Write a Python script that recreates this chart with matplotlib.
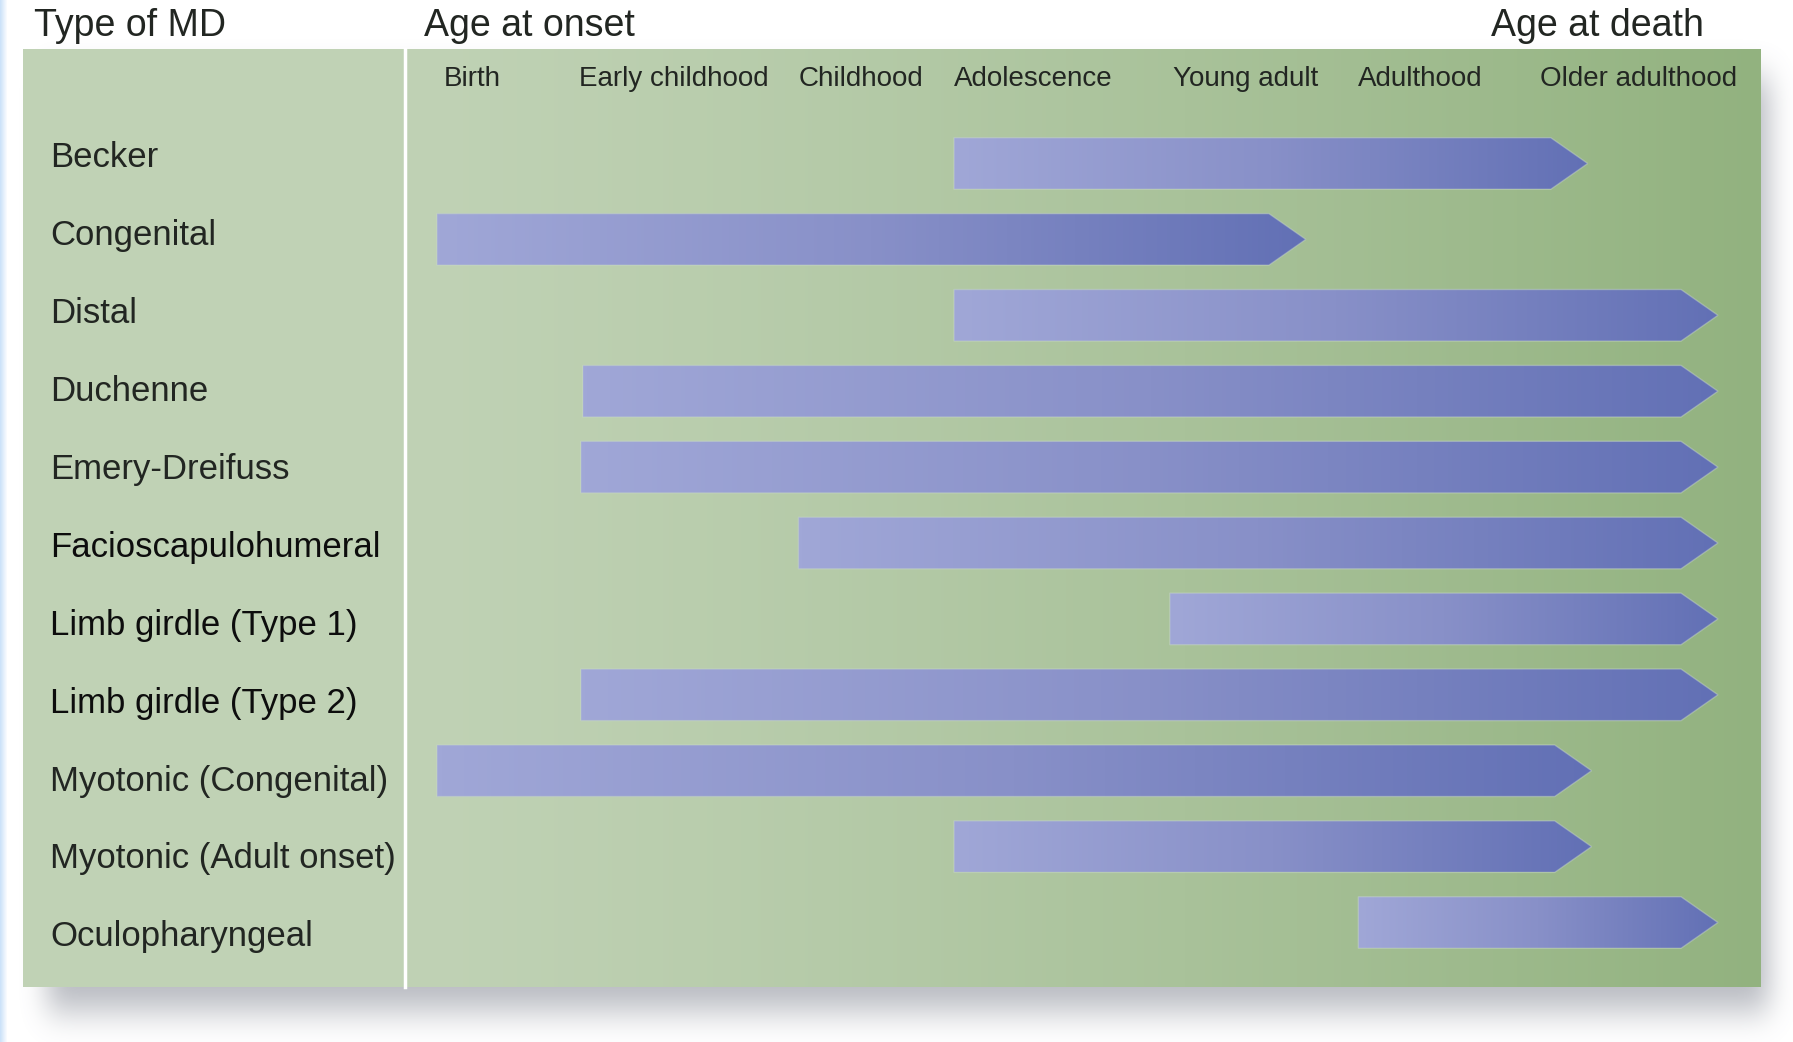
import numpy as np
import matplotlib.pyplot as plt
from matplotlib.patches import Polygon
from matplotlib.colors import LinearSegmentedColormap

plt.rcParams['font.family'] = ['Liberation Sans', 'DejaVu Sans']

# data: life stages along x (stage units, birth = 0)
stages = ['Birth', 'Early childhood', 'Childhood', 'Adolescence',
          'Young adult', 'Adulthood', 'Older adulthood']
stage_pos = [0.18, 1.22, 2.18, 3.07, 4.16, 5.06, 6.18]

md_types = ['Becker', 'Congenital', 'Distal', 'Duchenne', 'Emery-Dreifuss',
            'Facioscapulohumeral', 'Limb girdle (Type 1)', 'Limb girdle (Type 2)',
            'Myotonic (Congenital)', 'Myotonic (Adult onset)', 'Oculopharyngeal']
onset = [2.66, 0.0, 2.66, 0.75, 0.74, 1.86, 3.77, 0.74, 0.0, 2.66, 4.74]
death = [5.92, 4.47, 6.59, 6.59, 6.59, 6.59, 6.59, 6.59, 5.94, 5.94, 6.59]

W, H = 1793, 1042
fig = plt.figure(figsize=(W / 100, H / 100), dpi=100)
fig.patch.set_facecolor('white')

# background axes in pixel coords (panel, shadow, headings)
bg = fig.add_axes([0, 0, 1, 1])
bg.set_xlim(0, W)
bg.set_ylim(H, 0)
bg.axis('off')

px0, px1, py0, py1 = 23, 1761, 49, 987
divx = 405

# drop shadow
mask = np.zeros((H, W))
mask[py0 + 28:py1 + 24, px0 + 24:px1 + 8] = 1.0

def box_blur(a, r, axis):
    c = np.cumsum(np.pad(a, [(r + 1, r) if i == axis else (0, 0) for i in range(2)], mode='edge'), axis=axis)
    if axis == 0:
        return (c[2 * r + 1:] - c[:-2 * r - 1]) / (2 * r + 1)
    return (c[:, 2 * r + 1:] - c[:, :-2 * r - 1]) / (2 * r + 1)

for _ in range(3):
    mask = box_blur(mask, 16, 0)
    mask = box_blur(mask, 12, 1)
shadow = np.zeros((H, W, 4))
shadow[..., 0] = 0.45
shadow[..., 1] = 0.47
shadow[..., 2] = 0.52
shadow[..., 3] = mask * 0.5
bg.imshow(shadow, extent=[0, W, H, 0], zorder=0, interpolation='bilinear')

# light blue strip at the left edge
strip = np.zeros((1, 8, 4))
strip[0, :, 0] = 0.80
strip[0, :, 1] = 0.89
strip[0, :, 2] = 0.98
strip[0, :, 3] = np.linspace(1, 0, 8)
bg.imshow(strip, extent=[0, 8, H, 0], aspect='auto', zorder=1)

# panel gradient
left_c = np.array([192, 210, 181]) / 255
right_c = np.array([146, 178, 127]) / 255
n = 400
t = np.linspace(0, 1, n) ** 1.25
grad = (left_c[None, :] * (1 - t[:, None]) + right_c[None, :] * t[:, None])[None, :, :]
bg.imshow(np.tile(left_c, (1, 1, 1)), extent=[px0, divx, py1, py0], aspect='auto', zorder=2)
bg.imshow(grad, extent=[divx, px1, py1, py0], aspect='auto', zorder=2)
bg.plot([divx, divx], [py0, py1], color='white', lw=2.5, zorder=3)

txt = '#222622'
bg.text(34, 26, 'Type of MD', fontsize=27, color=txt, va='center', ha='left')
bg.text(424, 26, 'Age at onset', fontsize=27, color=txt, va='center', ha='left')
bg.text(1704, 26, 'Age at death', fontsize=27, color=txt, va='center', ha='right')

# data axes: x in stage units, y in row index
ax = fig.add_axes([0, 0, 1, 1])
ax.patch.set_alpha(0)
ax.axis('off')
ax.set_xlim(-2.247, 6.976)
ax.set_ylim(11.574, -2.154)

for s, xpos in zip(stages, stage_pos):
    ax.text(xpos, -1.11, s, fontsize=20, color=txt, ha='center', va='center', zorder=5)

for i, name in enumerate(md_types):
    ly = i - 0.08 + 0.027 * i
    dark = name.startswith('Facio') or name.startswith('Limb')
    ax.text(-1.99, ly, name, fontsize=25, color='#0d0d0d' if dark else txt,
            ha='left', va='center', zorder=5)

cmap = LinearSegmentedColormap.from_list('arrow', ['#a0a7d7', '#8890c8', '#6270b5'])
hh = 0.34
head = 0.19
gvals = np.linspace(0, 1, 256)[None, :]
for i, (x0, x1) in enumerate(zip(onset, death)):
    poly = Polygon([(x0, i - hh), (x1 - head, i - hh), (x1, i), (x1 - head, i + hh), (x0, i + hh)],
                   closed=True, facecolor='none', edgecolor=(0.78, 0.84, 0.80, 0.45), lw=1.0, zorder=6)
    ax.add_patch(poly)
    im = ax.imshow(gvals, cmap=cmap, extent=[x0, x1, i + hh, i - hh], aspect='auto', zorder=5)
    im.set_clip_path(poly)

ax.set_xlim(-2.247, 6.976)
ax.set_ylim(11.574, -2.154)

fig.savefig('out.png', dpi=100)
